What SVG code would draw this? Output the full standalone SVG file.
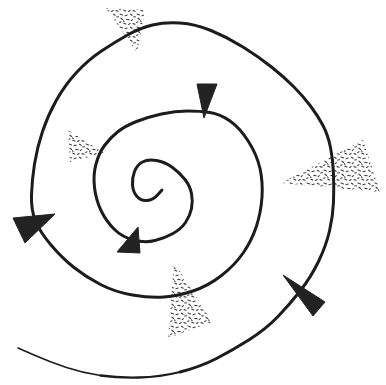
<svg xmlns="http://www.w3.org/2000/svg" width="386" height="385" viewBox="0 0 386 385">
<defs>
<style>
.line{fill:none;stroke:#1c1c1c;stroke-width:3;stroke-linecap:round;stroke-linejoin:round}
.thin{stroke-width:1.6}
.mid{stroke-width:2.3}
.head{fill:#222;stroke:#222;stroke-width:1;stroke-linejoin:round}
.stip{fill:url(#stip);stroke:none}
</style>
<pattern id="stip" width="17" height="13" patternUnits="userSpaceOnUse">
<path d="M1,1 l2.6,0.9 M6,2.8 l2.2,-0.7 M11.5,1.2 l1.6,1.1 M14.6,4 l1.9,-0.3 M2,5.2 l1.6,1.3 M7.8,6.4 l2.4,0.3 M12.2,7.6 l1.2,-1 M0.6,9.4 l1.4,-0.6 M4.8,10.2 l2,0.9 M9.6,11.4 l1.5,-0.8 M14,10.6 l2.2,0.6 M4.5,7.8 l0.6,0.9" stroke="#3f3f3f" stroke-width="1.1" fill="none" stroke-linecap="round"/>
</pattern>
</defs>
<rect width="386" height="385" fill="#fff"/>
<g id="stipples">
<polygon class="stip" points="106,8 145,10 137,53"/>
<polygon class="stip" points="68,130 104,153 70,162"/>
<polygon class="stip" points="281,183 363,140 380,192"/>
<polygon class="stip" points="174,262 212,322 168,338"/>
</g>
<g id="spiral">
<path class="line thin" d="M18,348 L34,355 Q50,362 66.5,367.5 Q83,373 100.5,375.5"/>
<path class="line mid" d="M100.5,375.5 Q118,378 139,377.5 Q160,377 180,372"/>
<path class="line" d="M180,372 Q200,367 216.5,358.5 Q233,350 249.5,339.5 Q266,329 278,316.5 Q290,304 300.5,290.5 Q311,277 318.5,261.5 Q326,246 329.5,231 Q333,216 333.5,202 Q334,188 333.5,174 Q333,160 330.5,147.5 Q328,135 323,125.5 Q318,116 310.5,106 Q303,96 293.5,86.5 Q284,77 271.5,67 Q259,57 243,47 Q227,37 211,30.5 Q195,24 180,23 Q165,22 152.5,25 Q140,28 127.5,35 Q115,42 101.5,51 Q88,60 76.5,72.5 Q65,85 56.5,100 Q48,115 42.5,131.5 Q37,148 34.5,164 Q32,180 31.5,195 Q31,210 35.5,221 Q40,232 51,245 Q62,258 74,267.5 Q86,277 100.5,284.5 Q115,292 132.5,295 Q150,298 164,297 Q178,296 193,291 Q208,286 221.5,275.5 Q235,265 243.5,252.5 Q252,240 256.5,226 Q261,212 262,197 Q263,182 260,168.5 Q257,155 248.5,141.5 Q240,128 230,121 Q220,114 210,112.5 Q200,111 187.5,111 Q175,111 161.5,114 Q148,117 136.5,121.5 Q125,126 117.5,132 Q110,138 104.5,145.5 Q99,153 96,164 Q93,175 94.5,187.5 Q96,200 101,210.5 Q106,221 114,229 Q122,237 133.5,240 Q145,243 155,240.5 Q165,238 173,233.5 Q181,229 185.5,222.5 Q190,216 191.5,208.5 Q193,201 191.5,193.5 Q190,186 185,179.5 Q180,173 172.5,167.5 Q165,162 156.5,160.5 Q148,159 142.5,162 Q137,165 134.5,171.5 Q132,178 132.5,185 Q133,192 137,196.5 Q141,201 147,200.5 Q153,200 157.5,195 L162,190"/>
</g>
<g id="arrowheads">
<polygon class="head" points="13,218 55,214 25,243"/>
<polygon class="head" points="197,84 217,84 204,118"/>
<polygon class="head" points="283,275 325,302 313,316"/>
<polygon class="head" points="117,252 138,227 140,253"/>
</g>
</svg>
